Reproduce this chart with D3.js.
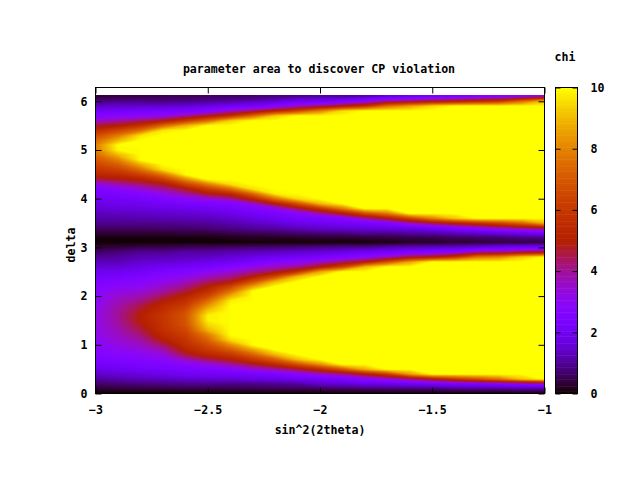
<!DOCTYPE html>
<html>
<head>
<meta charset="utf-8">
<script src="https://cdnjs.cloudflare.com/ajax/libs/d3/7.8.5/d3.min.js"></script>
<style>
body { margin: 0; background: #fff; }
text { font-family: "DejaVu Sans Mono", monospace; font-weight: bold; font-size: 11.6px; fill: #000; }
</style>
</head>
<body>
<div id="chart"></div>
<script>
const titleText = "parameter area to discover CP violation";
const xLabel = "sin^2(2theta)";
const yLabel = "delta";
const cbLabel = "chi";
const xTicks = [-3, -2.5, -2, -1.5, -1];
const yTicks = [0, 1, 2, 3, 4, 5, 6];
const cbTicks = [0, 2, 4, 6, 8, 10];

// grid: sin^2 column -3 .. -1, delta row 0 .. 6.1
const xGrid = [-3, -2.9, -2.8, -2.7, -2.6, -2.5, -2.4, -2.3, -2.2, -2.1, -2, -1.9, -1.8, -1.7, -1.6, -1.5, -1.4, -1.3, -1.2, -1.1, -1];
const deltaGrid = [0, .1, .2, .3, .4, .5, .6, .7, .8, .9, 1, 1.1, 1.2, 1.3, 1.4, 1.5, 1.6, 1.7, 1.8, 1.9, 2, 2.1, 2.2, 2.3, 2.4, 2.5, 2.6, 2.7, 2.8, 2.9, 3, 3.1,
    3.2, 3.3, 3.4, 3.5, 3.6, 3.7, 3.8, 3.9, 4, 4.1, 4.2, 4.3, 4.4, 4.5, 4.6, 4.7, 4.8, 4.9, 5, 5.1, 5.2, 5.3, 5.4, 5.5, 5.6, 5.7, 5.8, 5.9, 6, 6.1];

// chi for delta 0 .. 3.1, one line per column
const chiLower = [
[0,.3,.7,1.05,1.45,1.8,2.1,2.35,2.55,2.75,2.9,3,3.1,3.15,3.2,3.2,3.2,3.15,3.1,3,2.9,2.75,2.6,2.4,2.15,1.9,1.6,1.3,1,.65,.35,.05],
[0,.35,.8,1.2,1.6,1.95,2.25,2.5,2.8,3,3.25,3.45,3.6,3.75,3.85,3.95,4,3.95,3.85,3.7,3.45,3.2,2.9,2.6,2.25,1.95,1.6,1.3,1.05,.8,.4,.05],
[0,.4,.85,1.3,1.7,2.05,2.35,2.65,3,3.3,3.6,3.9,4.2,4.5,4.8,5,5,4.8,4.5,4.1,3.8,3.4,3.05,2.75,2.45,2.1,1.8,1.5,1.25,1,.5,.05],
[0,.4,.9,1.4,1.85,2.2,2.5,2.9,3.35,3.8,4.4,5,5.4,5.7,5.85,5.9,5.9,5.7,5.4,5,4.4,3.9,3.5,3.1,2.75,2.4,2,1.6,1.3,.95,.5,.05],
[0,.45,.95,1.5,2,2.35,2.85,3.7,4.6,5.2,5.6,5.9,6.2,6.5,6.8,6.9,6.9,6.7,6.2,5.7,5.2,4.6,4.1,3.6,3.1,2.6,2.1,1.7,1.35,1.15,.6,.05],
[0,.45,1,1.55,2.1,2.5,3.3,4.4,5.4,6.1,6.7,7.3,7.9,8.9,9.4,9.8,9.8,9.2,8.4,7.5,6.5,5.7,5,4.3,3.6,3,2.3,1.85,1.45,1.1,.6,.05],
[0,.45,.9,1.6,2.1,2.8,3.9,5,6,7.1,8.2,9.5,10,10,10,10,10,10,10,9.8,8.8,7.6,6.4,4.8,4.1,3.4,2.7,2,1.6,1.2,.7,.05],
[0,.5,.95,1.7,2.3,3.4,4.7,6,7.3,8.6,10,10,10,10,10,10,10,10,10,10,10,10,8.5,6.7,5,4,3.1,2.35,1.8,1.3,.75,.05],
[0,.55,1,1.8,2.4,3.9,5.5,7.2,9,10,10,10,10,10,10,10,10,10,10,10,10,10,10,8.9,6.6,4.6,3.7,2.7,2,1.4,.8,.05],
[0,.55,1.1,2,2.9,4.6,6.8,9.1,10,10,10,10,10,10,10,10,10,10,10,10,10,10,10,10,9,5.9,4,3,2.1,1.5,.85,.05],
[0,.6,1.5,2.1,3.6,5.5,8.3,10,10,10,10,10,10,10,10,10,10,10,10,10,10,10,10,10,10,8.6,5,3.6,2.3,1.6,.95,.05],
[0,.65,1.6,2.4,4,7,10,10,10,10,10,10,10,10,10,10,10,10,10,10,10,10,10,10,10,10,6.5,4.2,2.6,1.8,1,.05],
[0,.7,1.8,2.9,5,8.8,10,10,10,10,10,10,10,10,10,10,10,10,10,10,10,10,10,10,10,10,9,5,3,2,1.05,.05],
[0,.75,1.9,3.4,6.2,10,10,10,10,10,10,10,10,10,10,10,10,10,10,10,10,10,10,10,10,10,10,6.8,3.6,2.2,1.25,.1],
[0,.75,2.1,4,8.5,10,10,10,10,10,10,10,10,10,10,10,10,10,10,10,10,10,10,10,10,10,10,8.6,4.6,2.5,1.35,.2],
[0,.8,2.2,5,10,10,10,10,10,10,10,10,10,10,10,10,10,10,10,10,10,10,10,10,10,10,10,10,5,2.7,1.4,.25],
[0,.9,2.4,6,10,10,10,10,10,10,10,10,10,10,10,10,10,10,10,10,10,10,10,10,10,10,10,10,6,3,1.5,.3],
[0,1,2.5,6.9,10,10,10,10,10,10,10,10,10,10,10,10,10,10,10,10,10,10,10,10,10,10,10,10,7.8,3.8,1.7,.35],
[0,1,2.7,7.8,10,10,10,10,10,10,10,10,10,10,10,10,10,10,10,10,10,10,10,10,10,10,10,10,8.2,4,1.9,.4],
[0,1.1,3,9.2,10,10,10,10,10,10,10,10,10,10,10,10,10,10,10,10,10,10,10,10,10,10,10,10,9.3,4.5,2.1,.4],
[0,1.1,3.3,10,10,10,10,10,10,10,10,10,10,10,10,10,10,10,10,10,10,10,10,10,10,10,10,10,10,4.7,2.2,.4]
];

// chi for delta 3.2 .. 6.1, one line per column
const chiUpper = [
[.1,.35,.65,.95,1.15,1.35,1.55,1.8,2,2.25,2.45,3.3,4.5,5.4,6,6.5,7,7.5,7.9,7.9,7.4,6.7,5.7,4.6,3.6,2.7,2,1.4,.85,.35],
[.1,.35,.65,.95,1.15,1.4,1.65,1.9,2.1,2.35,2.85,3.9,4.8,5.6,6.4,7.2,8,9,9.9,10,8.9,7.8,6.5,5,3.9,2.8,2.1,1.5,.9,.4],
[.1,.35,.65,.95,1.2,1.45,1.7,1.95,2.2,2.6,3.4,4.3,5.2,6.4,7.6,8.8,10,10,10,10,10,9.6,7.6,5.8,4.3,3,2.2,1.5,.9,.45],
[.1,.35,.7,.95,1.25,1.5,1.8,2.1,2.5,3.2,4,4.8,6.2,7.8,9.6,10,10,10,10,10,10,10,9.7,7.4,4.9,3.2,2.3,1.5,.85,.5],
[.1,.4,.7,1,1.3,1.55,1.85,2.3,2.9,3.9,4.8,6.4,8.2,10,10,10,10,10,10,10,10,10,10,8.9,6.1,3.9,2.35,1.6,.9,.55],
[.1,.4,.8,1.05,1.35,1.65,2,2.5,3.4,4.8,6.2,8,10,10,10,10,10,10,10,10,10,10,10,10,7.5,4.8,2.7,1.8,1,.6],
[.15,.55,.9,1.2,1.5,1.85,2.2,2.6,3.9,5.4,7.5,9.6,10,10,10,10,10,10,10,10,10,10,10,10,9.3,5.8,3.6,2,1.1,.65],
[.2,.6,1.05,1.4,1.75,2.1,2.5,3.5,5.4,7.4,9.6,10,10,10,10,10,10,10,10,10,10,10,10,10,10,7.5,4.3,2.2,1.25,.7],
[.2,.65,1.15,1.6,2,2.35,3.2,5,7.6,9.8,10,10,10,10,10,10,10,10,10,10,10,10,10,10,10,9.3,5.3,2.8,1.5,.8],
[.25,.75,1.35,1.85,2.25,2.9,4.5,6.8,9.5,10,10,10,10,10,10,10,10,10,10,10,10,10,10,10,10,10,6.5,3.5,1.9,.9],
[.3,.85,1.5,2,2.4,3.9,6,9,10,10,10,10,10,10,10,10,10,10,10,10,10,10,10,10,10,10,8,4.2,2,1.1],
[.3,.9,1.6,2.2,2.8,5,7.9,10,10,10,10,10,10,10,10,10,10,10,10,10,10,10,10,10,10,10,9.5,5,2.4,1],
[.35,1.05,1.7,2.3,3.9,6.7,10,10,10,10,10,10,10,10,10,10,10,10,10,10,10,10,10,10,10,10,10,5.9,3,1.2],
[.4,1,1.8,2.7,5,7.9,10,10,10,10,10,10,10,10,10,10,10,10,10,10,10,10,10,10,10,10,10,7.7,3.9,1.6],
[.45,1.15,1.9,3.7,6.5,10,10,10,10,10,10,10,10,10,10,10,10,10,10,10,10,10,10,10,10,10,10,8.6,4.2,1.9],
[.5,1.2,2.2,4.5,8,10,10,10,10,10,10,10,10,10,10,10,10,10,10,10,10,10,10,10,10,10,10,9.5,4.7,2.1],
[.6,1.4,2.7,5.2,9.2,10,10,10,10,10,10,10,10,10,10,10,10,10,10,10,10,10,10,10,10,10,10,10,5,2.3],
[.65,1.6,3.1,5.8,10,10,10,10,10,10,10,10,10,10,10,10,10,10,10,10,10,10,10,10,10,10,10,10,5.5,2.5],
[.7,1.8,3.7,6.5,10,10,10,10,10,10,10,10,10,10,10,10,10,10,10,10,10,10,10,10,10,10,10,10,6,2.6],
[.85,2,4.2,7.4,10,10,10,10,10,10,10,10,10,10,10,10,10,10,10,10,10,10,10,10,10,10,10,10,7.5,2.9],
[.9,2.2,4.6,8.9,10,10,10,10,10,10,10,10,10,10,10,10,10,10,10,10,10,10,10,10,10,10,10,10,9,3.5]
];

const width = 640, height = 480;
const plotLeft = 95.5, plotRight = 544.5, plotTop = 87.5, plotBottom = 393.5;
const dataTop = 6.13;

const svg = d3.select("#chart").append("svg")
    .attr("width", width)
    .attr("height", height)
    .style("display", "block");

const x = d3.scaleLinear().domain([-3, -1]).range([plotLeft, plotRight]);
const y = d3.scaleLinear().domain([0, 2 * Math.PI]).range([plotBottom, plotTop]);
const cb = d3.scaleLinear().domain([0, 10]).range([plotBottom, plotTop]);

// gnuplot default pm3d palette (rgbformulae 7,5,15)
function palette(v) {
    const g = Math.max(0, Math.min(1, v / 10));
    const b = Math.max(0, Math.sin(2 * Math.PI * g));
    return d3.rgb(255 * Math.sqrt(g), 255 * g * g * g, 255 * b).formatHex();
}

// flat row-major table for d3.contours
const nx = xGrid.length, ny = deltaGrid.length;
const chiFlat = [];
deltaGrid.forEach((d, j) => {
    xGrid.forEach((s, i) => {
        chiFlat.push(j < chiLower[i].length ? chiLower[i][j] : chiUpper[i][j - chiLower[i].length]);
    });
});

svg.append("clipPath").attr("id", "plotClip").append("rect")
    .attr("x", plotLeft)
    .attr("y", y(dataTop))
    .attr("width", plotRight - plotLeft)
    .attr("height", plotBottom - y(dataTop));

// grid coordinates: value i sits at i + 0.5
const gridX = d3.scaleLinear().domain([0.5, nx - 0.5]).range([x(xGrid[0]), x(xGrid[nx - 1])]);
const gridY = d3.scaleLinear().domain([0.5, ny - 0.5]).range([y(deltaGrid[0]), y(deltaGrid[ny - 1])]);
const gridPath = d3.geoPath(d3.geoTransform({
    point: function(gx, gy) { this.stream.point(gridX(gx), gridY(gy)); }
}));

const levels = d3.range(0, 101).map(i => i / 10);
const bands = d3.contours().size([nx, ny]).thresholds(levels)(chiFlat);

svg.append("g")
    .attr("clip-path", "url(#plotClip)")
    .selectAll("path")
    .data(bands)
    .enter().append("path")
    .attr("d", gridPath)
    .attr("fill", d => palette(d.value + 0.05));

// colour box
const cbSteps = d3.range(0, 128);
svg.append("g").selectAll("rect")
    .data(cbSteps)
    .enter().append("rect")
    .attr("x", 555.5)
    .attr("width", 22)
    .attr("y", d => cb((d + 1) * 10 / 128))
    .attr("height", d => cb(d * 10 / 128) - cb((d + 1) * 10 / 128) + 0.5)
    .attr("fill", d => palette((d + 0.5) * 10 / 128));

function styleAxis(g) {
    g.select(".domain").remove();
    g.selectAll("line").attr("stroke", "#000");
    g.selectAll("text").attr("fill", "#000");
    g.attr("font-family", null).attr("font-size", null);
}

svg.append("g")
    .attr("transform", `translate(0,${plotBottom})`)
    .call(d3.axisBottom(x).tickValues(xTicks).tickFormat(d3.format("")).tickSizeInner(-6).tickSizeOuter(0).tickPadding(12))
    .call(styleAxis);
svg.append("g")
    .attr("transform", `translate(0,${plotTop})`)
    .call(d3.axisTop(x).tickValues(xTicks).tickFormat("").tickSizeInner(-6).tickSizeOuter(0))
    .call(styleAxis);
svg.append("g")
    .attr("transform", `translate(${plotLeft},0)`)
    .call(d3.axisLeft(y).tickValues(yTicks).tickFormat(d3.format("d")).tickSizeInner(-6).tickSizeOuter(0).tickPadding(8))
    .call(styleAxis);
svg.append("g")
    .attr("transform", `translate(${plotRight},0)`)
    .call(d3.axisRight(y).tickValues(yTicks).tickFormat("").tickSizeInner(-6).tickSizeOuter(0))
    .call(styleAxis);

svg.append("g")
    .attr("transform", "translate(577.5,0)")
    .call(d3.axisRight(cb).tickValues(cbTicks).tickFormat(d3.format("d")).tickSizeInner(-5).tickSizeOuter(0).tickPadding(13))
    .call(styleAxis);
svg.append("g")
    .attr("transform", "translate(555.5,0)")
    .call(d3.axisLeft(cb).tickValues(cbTicks).tickFormat("").tickSizeInner(-5).tickSizeOuter(0))
    .call(styleAxis);

// frames
svg.append("rect")
    .attr("x", plotLeft).attr("y", plotTop)
    .attr("width", plotRight - plotLeft).attr("height", plotBottom - plotTop)
    .attr("fill", "none").attr("stroke", "#000");
svg.append("rect")
    .attr("x", 555.5).attr("y", plotTop)
    .attr("width", 22).attr("height", plotBottom - plotTop)
    .attr("fill", "none").attr("stroke", "#000");

// labels
svg.append("text").attr("x", 319).attr("y", 73).attr("text-anchor", "middle").text(titleText);
svg.append("text").attr("x", 320).attr("y", 434).attr("text-anchor", "middle").text(xLabel);
svg.append("text").attr("transform", "translate(75,245) rotate(-90)").attr("text-anchor", "middle").text(yLabel);
svg.append("text").attr("x", 565).attr("y", 61).attr("text-anchor", "middle").text(cbLabel);
</script>
</body>
</html>
